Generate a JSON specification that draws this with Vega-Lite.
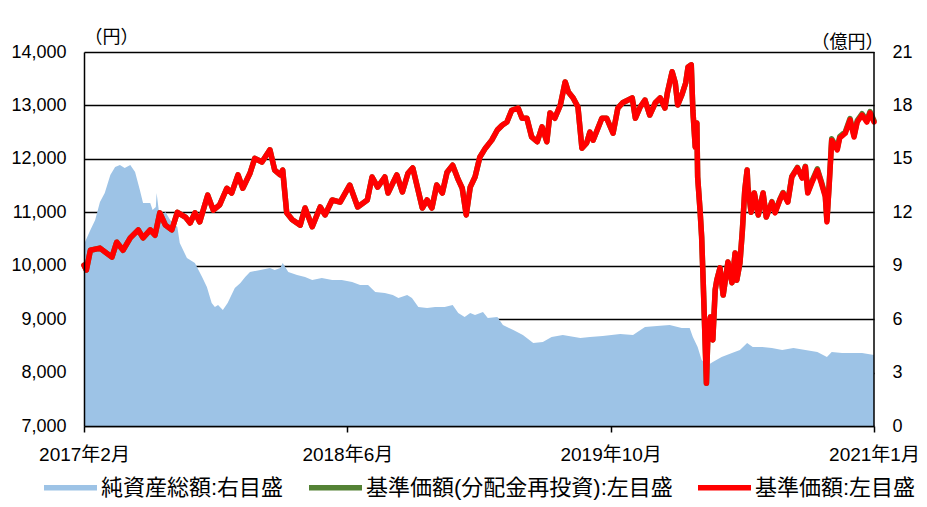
{
  "$schema": "https://vega.github.io/schema/vega-lite/v6.json",
  "width": 790,
  "height": 374,
  "autosize": {"type": "none"},
  "padding": {"left": 84, "top": 52, "right": 53, "bottom": 81},
  "background": "white",
  "config": {
    "view": {"stroke": null},
    "font": "Liberation Sans, Noto Sans CJK JP",
    "axis": {"labelColor": "black", "labelFont": "Liberation Sans, Noto Sans CJK JP", "titleFont": "Liberation Sans, Noto Sans CJK JP", "titleColor": "black", "domainColor": "black", "tickColor": "black"},
    "legend": {
      "title": null, "orient": "none", "direction": "horizontal",
      "legendX": -40, "legendY": 409, "padding": 0,
      "symbolSize": 2809, "symbolType": "M-1,-0.1H1V0.1H-1Z", "symbolStrokeWidth": 0,
      "labelFontSize": 22, "labelColor": "black", "labelOffset": 4, "labelFont": "Liberation Sans, Noto Sans CJK JP",
      "columnPadding": 25, "labelLimit": 400
    }
  },
  "datasets": {
    "nav": [
      {"t":0,"nav":10010,"navr":10010},{"t":3,"nav":9920,"navr":9920},{"t":8,"nav":10290,"navr":10290},{"t":20,"nav":10330,"navr":10330},
      {"t":35,"nav":10160,"navr":10160},{"t":41,"nav":10440,"navr":10440},{"t":49,"nav":10290,"navr":10290},{"t":58,"nav":10520,"navr":10520},
      {"t":68,"nav":10670,"navr":10670},{"t":74,"nav":10520,"navr":10520},{"t":83,"nav":10670,"navr":10670},{"t":89,"nav":10570,"navr":10570},
      {"t":95,"nav":10990,"navr":10990},{"t":102,"nav":10760,"navr":10760},{"t":110,"nav":10670,"navr":10670},{"t":117,"nav":11000,"navr":11000},
      {"t":127,"nav":10910,"navr":10910},{"t":133,"nav":10800,"navr":10800},{"t":139,"nav":10990,"navr":10990},{"t":145,"nav":10820,"navr":10820},
      {"t":155,"nav":11320,"navr":11320},{"t":162,"nav":11040,"navr":11040},{"t":170,"nav":11140,"navr":11140},{"t":179,"nav":11450,"navr":11450},
      {"t":185,"nav":11360,"navr":11360},{"t":193,"nav":11700,"navr":11700},{"t":199,"nav":11450,"navr":11450},{"t":208,"nav":11730,"navr":11730},
      {"t":214,"nav":12010,"navr":12010},{"t":223,"nav":11940,"navr":11940},{"t":233,"nav":12170,"navr":12170},{"t":239,"nav":11790,"navr":11790},
      {"t":246,"nav":11700,"navr":11700},{"t":249,"nav":11790,"navr":11790},{"t":254,"nav":10990,"navr":10990},{"t":261,"nav":10860,"navr":10860},
      {"t":271,"nav":10760,"navr":10760},{"t":277,"nav":11080,"navr":11080},{"t":286,"nav":10730,"navr":10730},{"t":296,"nav":11100,"navr":11100},
      {"t":302,"nav":10950,"navr":10950},{"t":311,"nav":11230,"navr":11230},{"t":321,"nav":11190,"navr":11190},{"t":333,"nav":11510,"navr":11510},
      {"t":343,"nav":11100,"navr":11100},{"t":355,"nav":11230,"navr":11230},{"t":361,"nav":11660,"navr":11660},{"t":368,"nav":11470,"navr":11470},
      {"t":377,"nav":11660,"navr":11660},{"t":381,"nav":11360,"navr":11360},{"t":392,"nav":11700,"navr":11700},{"t":399,"nav":11380,"navr":11380},
      {"t":406,"nav":11730,"navr":11730},{"t":412,"nav":11830,"navr":11830},{"t":424,"nav":11080,"navr":11080},{"t":430,"nav":11230,"navr":11230},
      {"t":436,"nav":11080,"navr":11080},{"t":442,"nav":11510,"navr":11510},{"t":449,"nav":11360,"navr":11360},{"t":455,"nav":11750,"navr":11750},
      {"t":462,"nav":11880,"navr":11880},{"t":469,"nav":11610,"navr":11610},{"t":474,"nav":11450,"navr":11450},{"t":479,"nav":10950,"navr":10950},
      {"t":484,"nav":11470,"navr":11470},{"t":490,"nav":11660,"navr":11660},{"t":496,"nav":12030,"navr":12030},{"t":503,"nav":12200,"navr":12200},
      {"t":511,"nav":12350,"navr":12350},{"t":518,"nav":12540,"navr":12540},{"t":524,"nav":12630,"navr":12630},{"t":530,"nav":12690,"navr":12690},
      {"t":536,"nav":12910,"navr":12910},{"t":544,"nav":12950,"navr":12950},{"t":549,"nav":12760,"navr":12760},{"t":555,"nav":12760,"navr":12760},
      {"t":561,"nav":12410,"navr":12410},{"t":568,"nav":12320,"navr":12320},{"t":574,"nav":12600,"navr":12600},{"t":580,"nav":12320,"navr":12320},
      {"t":584,"nav":12860,"navr":12860},{"t":590,"nav":12760,"navr":12760},{"t":597,"nav":13010,"navr":13010},{"t":603,"nav":13440,"navr":13440},
      {"t":607,"nav":13250,"navr":13250},{"t":613,"nav":13140,"navr":13140},{"t":619,"nav":12970,"navr":12970},{"t":624,"nav":12200,"navr":12200},
      {"t":630,"nav":12300,"navr":12300},{"t":634,"nav":12500,"navr":12500},{"t":638,"nav":12350,"navr":12350},{"t":649,"nav":12760,"navr":12760},
      {"t":655,"nav":12760,"navr":12760},{"t":663,"nav":12480,"navr":12480},{"t":669,"nav":12950,"navr":12950},{"t":675,"nav":13050,"navr":13050},
      {"t":687,"nav":13140,"navr":13140},{"t":691,"nav":12760,"navr":12760},{"t":697,"nav":12970,"navr":12970},{"t":703,"nav":13100,"navr":13100},
      {"t":709,"nav":12820,"navr":12820},{"t":716,"nav":13050,"navr":13050},{"t":722,"nav":13140,"navr":13140},{"t":728,"nav":12950,"navr":12950},
      {"t":731,"nav":13230,"navr":13230},{"t":737,"nav":13630,"navr":13630},{"t":741,"nav":13420,"navr":13420},{"t":744,"nav":13010,"navr":13010},
      {"t":749,"nav":13190,"navr":13190},{"t":754,"nav":13420,"navr":13420},{"t":757,"nav":13720,"navr":13720},{"t":761,"nav":13760,"navr":13760},
      {"t":763,"nav":12910,"navr":12910},{"t":766,"nav":12220,"navr":12220},{"t":768,"nav":12670,"navr":12670},{"t":769,"nav":11660,"navr":11660},
      {"t":772,"nav":11040,"navr":11040},{"t":774,"nav":10540,"navr":10540},{"t":776,"nav":9680,"navr":9680},{"t":778,"nav":8740,"navr":8740},
      {"t":780,"nav":7800,"navr":7800},{"t":782,"nav":8800,"navr":8800},{"t":785,"nav":9040,"navr":9040},{"t":788,"nav":8610,"navr":8610},
      {"t":791,"nav":9550,"navr":9550},{"t":793,"nav":9730,"navr":9730},{"t":797,"nav":9960,"navr":9960},{"t":801,"nav":9450,"navr":9450},
      {"t":807,"nav":10070,"navr":10070},{"t":812,"nav":9680,"navr":9680},{"t":816,"nav":10240,"navr":10240},{"t":818,"nav":9730,"navr":9730},
      {"t":822,"nav":10050,"navr":10050},{"t":825,"nav":10650,"navr":10650},{"t":828,"nav":11400,"navr":11400},{"t":831,"nav":11790,"navr":11790},
      {"t":832,"nav":11470,"navr":11470},{"t":836,"nav":11000,"navr":11000},{"t":840,"nav":11360,"navr":11360},{"t":845,"nav":10950,"navr":10950},
      {"t":851,"nav":11360,"navr":11360},{"t":855,"nav":10910,"navr":10910},{"t":862,"nav":11190,"navr":11200},{"t":866,"nav":10990,"navr":11000},
      {"t":872,"nav":11230,"navr":11240},{"t":876,"nav":11360,"navr":11370},{"t":882,"nav":11190,"navr":11200},{"t":887,"nav":11660,"navr":11670},
      {"t":894,"nav":11830,"navr":11840},{"t":900,"nav":11640,"navr":11650},{"t":904,"nav":11850,"navr":11860},{"t":907,"nav":11360,"navr":11370},
      {"t":912,"nav":11550,"navr":11575},{"t":919,"nav":11790,"navr":11815},{"t":924,"nav":11550,"navr":11575},{"t":929,"nav":11290,"navr":11315},
      {"t":931,"nav":10820,"navr":10845},{"t":934,"nav":11550,"navr":11575},{"t":937,"nav":12350,"navr":12375},{"t":944,"nav":12170,"navr":12195},
      {"t":947,"nav":12390,"navr":12415},{"t":954,"nav":12480,"navr":12505},{"t":960,"nav":12730,"navr":12755},{"t":965,"nav":12410,"navr":12435},
      {"t":969,"nav":12690,"navr":12715},{"t":975,"nav":12820,"navr":12845},{"t":981,"nav":12690,"navr":12715},{"t":985,"nav":12860,"navr":12885},
      {"t":990,"nav":12690,"navr":12715}
    ],
    "assets": [
      {"t":0,"oku":10.2},{"t":8,"oku":11.0},{"t":14,"oku":11.57},{"t":20,"oku":12.58},{"t":26,"oku":13.08},{"t":33,"oku":14.09},
      {"t":39,"oku":14.54},{"t":45,"oku":14.65},{"t":51,"oku":14.49},{"t":58,"oku":14.65},{"t":64,"oku":14.26},{"t":70,"oku":13.25},
      {"t":74,"oku":12.52},{"t":83,"oku":12.52},{"t":86,"oku":12.13},{"t":90,"oku":12.3},{"t":91,"oku":13.08},{"t":94,"oku":12.0},
      {"t":95,"oku":11.74},{"t":102,"oku":12.02},{"t":108,"oku":11.57},{"t":117,"oku":11.17},{"t":120,"oku":10.28},{"t":129,"oku":9.43},
      {"t":139,"oku":9.15},{"t":148,"oku":8.37},{"t":154,"oku":7.8},{"t":160,"oku":6.91},{"t":164,"oku":6.68},{"t":168,"oku":6.79},
      {"t":174,"oku":6.51},{"t":180,"oku":6.91},{"t":189,"oku":7.75},{"t":196,"oku":8.03},{"t":202,"oku":8.37},{"t":208,"oku":8.65},
      {"t":221,"oku":8.76},{"t":233,"oku":8.87},{"t":239,"oku":8.76},{"t":246,"oku":8.87},{"t":249,"oku":9.15},{"t":256,"oku":8.65},
      {"t":267,"oku":8.48},{"t":277,"oku":8.37},{"t":286,"oku":8.2},{"t":298,"oku":8.31},{"t":311,"oku":8.2},{"t":323,"oku":8.2},
      {"t":336,"oku":8.09},{"t":346,"oku":7.92},{"t":356,"oku":7.92},{"t":365,"oku":7.52},{"t":377,"oku":7.47},{"t":387,"oku":7.36},
      {"t":394,"oku":7.19},{"t":405,"oku":7.36},{"t":411,"oku":7.19},{"t":419,"oku":6.68},{"t":430,"oku":6.63},{"t":440,"oku":6.68},
      {"t":452,"oku":6.68},{"t":462,"oku":6.79},{"t":469,"oku":6.35},{"t":477,"oku":6.12},{"t":484,"oku":6.35},{"t":490,"oku":6.23},
      {"t":500,"oku":6.4},{"t":506,"oku":6.06},{"t":518,"oku":6.12},{"t":525,"oku":5.67},{"t":538,"oku":5.39},{"t":550,"oku":5.11},
      {"t":563,"oku":4.66},{"t":575,"oku":4.72},{"t":586,"oku":5.0},{"t":600,"oku":5.11},{"t":622,"oku":4.94},{"t":634,"oku":5.0},
      {"t":650,"oku":5.05},{"t":672,"oku":5.17},{"t":688,"oku":5.11},{"t":703,"oku":5.56},{"t":718,"oku":5.62},{"t":734,"oku":5.67},
      {"t":749,"oku":5.5},{"t":759,"oku":5.5},{"t":763,"oku":5.0},{"t":769,"oku":4.44},{"t":774,"oku":3.71},{"t":781,"oku":3.4},
      {"t":788,"oku":3.6},{"t":799,"oku":3.88},{"t":812,"oku":4.1},{"t":822,"oku":4.27},{"t":831,"oku":4.66},{"t":838,"oku":4.44},
      {"t":850,"oku":4.44},{"t":862,"oku":4.38},{"t":875,"oku":4.27},{"t":889,"oku":4.38},{"t":904,"oku":4.27},{"t":919,"oku":4.16},
      {"t":931,"oku":3.88},{"t":937,"oku":4.16},{"t":950,"oku":4.1},{"t":962,"oku":4.1},{"t":975,"oku":4.1},{"t":990,"oku":3.99}
    ]
  },
  "resolve": {"scale": {"y": "independent"}},
  "layer": [
    {
      "data": {"name": "assets"},
      "mark": {"type": "area", "opacity": 1, "interpolate": "linear"},
      "encoding": {
        "x": {
          "field": "t", "type": "quantitative",
          "scale": {"domain": [0, 990], "nice": false, "zero": false},
          "axis": {
            "title": null, "values": [0, 330, 660, 990],
            "labelExpr": "datum.value == 0 ? '2017年2月' : datum.value == 330 ? '2018年6月' : datum.value == 660 ? '2019年10月' : '2021年1月'",
            "grid": false, "domainWidth": 1.5, "tickSize": 6, "tickWidth": 1.5,
            "labelFontSize": 19, "labelPadding": 13, "labelFlush": false, "labelOverlap": false, "zindex": 1
          }
        },
        "y": {
          "field": "oku", "type": "quantitative",
          "scale": {"domain": [0, 21], "nice": false},
          "axis": {
            "orient": "right", "values": [0, 3, 6, 9, 12, 15, 18, 21],
            "grid": true, "gridColor": "black", "gridWidth": 1.5, "gridOpacity": 1,
            "domain": false, "ticks": false, "tickSize": 0, "labelPadding": 18, "labelFontSize": 18,
            "title": "（億円）", "titleAngle": 0, "titleAlign": "center", "titleBaseline": "middle",
            "titleX": -27, "titleY": -10, "titleFontSize": 18, "titleFontWeight": "normal", "zindex": 0
          }
        },
        "color": {
          "datum": "純資産総額:右目盛",
          "scale": {
            "domain": ["純資産総額:右目盛", "基準価額(分配金再投資):左目盛", "基準価額:左目盛"],
            "range": ["#9DC3E6", "#548235", "#FF0000"]
          },
          "legend": {
            "encode": {
              "symbols": {
                "update": {
                  "shape": {"signal": "datum.value == '純資産総額:右目盛' ? 'M-1,-0.19H1V0.19H-1Z' : datum.value == '基準価額:左目盛' ? 'M-1,-0.12H1V0.12H-1Z' : 'M-1,-0.08H1V0.08H-1Z'"},
                  "fill": {"signal": "datum.value == '純資産総額:右目盛' ? '#9DC3E6' : datum.value == '基準価額:左目盛' ? '#FF0000' : '#548235'"},
                  "opacity": {"value": 1}
                }
              }
            }
          }
        }
      }
    },
    {
      "data": {"name": "nav"},
      "layer": [
        {
          "mark": {"type": "line", "strokeWidth": 5.5, "strokeJoin": "round", "strokeCap": "round"},
          "encoding": {
            "x": {"field": "t", "type": "quantitative"},
            "y": {
              "field": "navr", "type": "quantitative",
              "scale": {"domain": [7000, 14000], "nice": false, "zero": false},
              "axis": {
                "orient": "left", "values": [7000, 8000, 9000, 10000, 11000, 12000, 13000, 14000], "format": ",d",
                "grid": false, "domain": true, "domainWidth": 1.5, "ticks": false, "tickSize": 0,
                "labelPadding": 18, "labelFontSize": 18,
                "title": "（円）", "titleAngle": 0, "titleAlign": "center", "titleBaseline": "middle",
                "titleX": 27, "titleY": -15, "titleFontSize": 18, "titleFontWeight": "normal", "zindex": 1
              }
            },
            "color": {"datum": "基準価額(分配金再投資):左目盛"}
          }
        },
        {
          "mark": {"type": "line", "strokeWidth": 5.5, "strokeJoin": "round", "strokeCap": "round"},
          "encoding": {
            "x": {"field": "t", "type": "quantitative"},
            "y": {"field": "nav", "type": "quantitative"},
            "color": {"datum": "基準価額:左目盛"}
          }
        },
        {
          "data": {"values": [{}]},
          "mark": {"type": "rule", "color": "black", "strokeWidth": 1.5},
          "encoding": {"x": {"datum": 990, "type": "quantitative"}}
        }
      ]
    }
  ]
}
